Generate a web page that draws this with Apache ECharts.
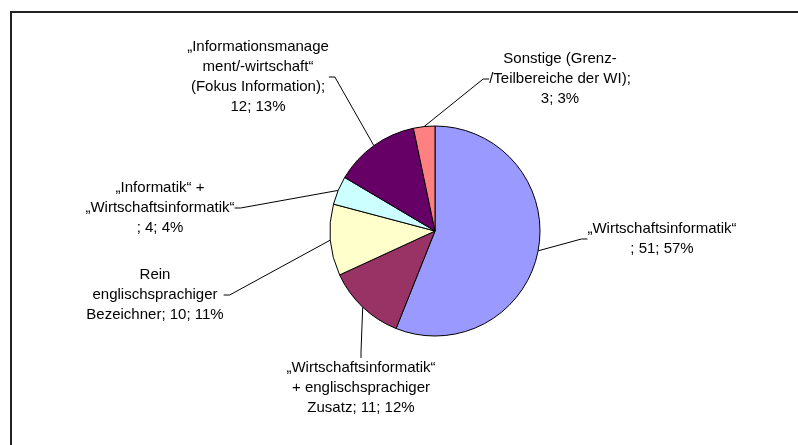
<!DOCTYPE html>
<html>
<head>
<meta charset="utf-8">
<script src="https://cdn.jsdelivr.net/npm/echarts@6/dist/echarts.min.js"></script>
<style>
  html, body { margin: 0; padding: 0; background: #fff; }
  #chart { width: 798px; height: 445px; }
</style>
</head>
<body>
<div id="chart"></div>
<script>
// slice names (with the line breaks used in the labels)
const names = [
    '„Wirtschaftsinformatik“\n',
    '„Wirtschaftsinformatik“\n+ englischsprachiger\nZusatz',
    'Rein\nenglischsprachiger\nBezeichner',
    '„Informatik“ +\n„Wirtschaftsinformatik“\n',
    '„Informationsmanage\nment/-wirtschaft“\n(Fokus Information)',
    'Sonstige (Grenz-\n/Teilbereiche der WI)'
];
const seps = ['; ', '; ', '; ', '; ', ';\n', ';\n'];
const counts = [51, 11, 10, 4, 12, 3];
const shares = [57, 12, 11, 4, 13, 3];
const colors = ['#9999FF', '#993366', '#FFFFCC', '#CCFFFF', '#660066', '#FF8080'];
// label centres
const labelPos = [[662, 239], [361, 388], [155, 295], [160, 208], [258, 77], [560, 79]];

const myChart = echarts.init(document.getElementById('chart'));
myChart.setOption({
    animation: false,
    graphic: [{
        type: 'rect',
        shape: {x: 11, y: 12, width: 800, height: 450},
        style: {fill: null, stroke: '#222', lineWidth: 2},
        silent: true
    }],
    series: [{
        type: 'pie',
        center: [435, 231],
        radius: 105,
        startAngle: 90,
        clockwise: true,
        avoidLabelOverlap: false,
        itemStyle: {borderColor: '#000', borderWidth: 1},
        label: {
            show: true,
            color: '#000',
            fontFamily: 'Liberation Sans, Arial, sans-serif',
            fontSize: 15,
            lineHeight: 20,
            align: 'center',
            formatter: (p) => names[p.dataIndex] + seps[p.dataIndex] + counts[p.dataIndex] + '; ' + shares[p.dataIndex] + '%'
        },
        labelLine: {
            show: true,
            length: 10,
            length2: 6,
            lineStyle: {color: '#000', width: 1}
        },
        labelLayout: (p) => ({
            x: labelPos[p.dataIndex][0],
            y: labelPos[p.dataIndex][1],
            align: 'center',
            verticalAlign: 'middle'
        }),
        data: counts.map((v, i) => ({
            value: v,
            name: names[i],
            itemStyle: {color: colors[i]}
        }))
    }]
});
</script>
</body>
</html>
